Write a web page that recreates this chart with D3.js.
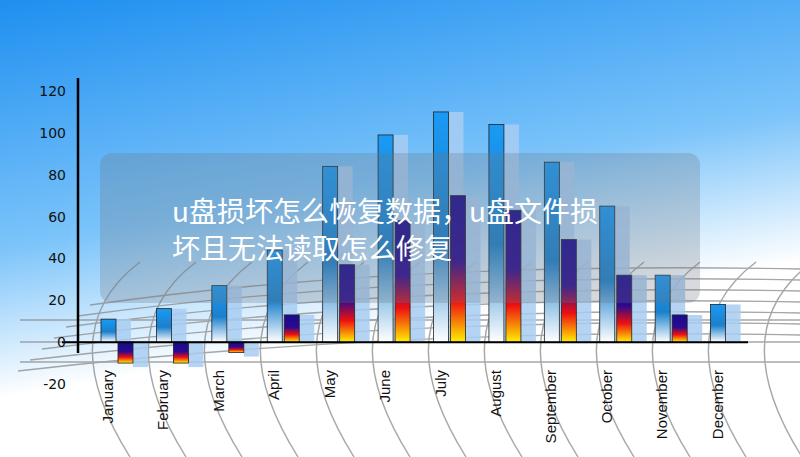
<!DOCTYPE html><html><head><meta charset="utf-8"><script src="https://cdn.jsdelivr.net/npm/d3@7/dist/d3.min.js"></script>
<style>body{margin:0}svg{display:block}</style></head><body><svg width="800" height="457"></svg>
<script>
const months=["January","February","March","April","May","June","July","August","September","October","November","December"];
const seriesA=[11,16,27,44,84,99,110,104,86,65,32,18];
const seriesB=[-10,-10,-5,13,37,58,70,63,49,32,13,null];
const yTicks=[-20,0,20,40,60,80,100,120];
const title1="u盘损坏怎么恢复数据，u盘文件损",title2="坏且无法读取怎么修复";
const svg=d3.select("svg"),W=800,H=457;
const defs=svg.append("defs");
const sky=defs.append("linearGradient").attr("id","sky").attr("x1",0).attr("y1",0).attr("x2",0.3).attr("y2",1);
sky.append("stop").attr("offset",0).attr("stop-color","#1e8ff0");
sky.append("stop").attr("offset",0.5).attr("stop-color","#7cc4fa");
sky.append("stop").attr("offset",0.8).attr("stop-color","#ffffff");
svg.append("rect").attr("width",W).attr("height",H).attr("fill","url(#sky)");
const gA=defs.append("linearGradient").attr("id","gA").attr("x1",0).attr("y1",0).attr("x2",0).attr("y2",1);
gA.append("stop").attr("offset",0).attr("stop-color","#1a9af5");
gA.append("stop").attr("offset",0.55).attr("stop-color","#1b80cc");
gA.append("stop").attr("offset",1).attr("stop-color","#ffffff");
const gB=defs.append("linearGradient").attr("id","gB").attr("x1",0).attr("y1",0).attr("x2",0).attr("y2",1);
gB.append("stop").attr("offset",0).attr("stop-color","#180c90");
gB.append("stop").attr("offset",0.45).attr("stop-color","#2a0a90");
gB.append("stop").attr("offset",0.72).attr("stop-color","#ee1010");
gB.append("stop").attr("offset",1).attr("stop-color","#fff000");
const y=d3.scaleLinear().domain([-20,120]).range([384,91]);
const x=d3.scaleBand().domain(months).range([101,766]);
// perspective grid
const grid=svg.append("g").attr("stroke","#8a8a8a").attr("stroke-width",1.4).attr("fill","none").attr("opacity",0.75);
for(let i=0;i<7;i++){const yy=275+i*11;grid.append("path").attr("d",`M${90-i*12},${yy+30} Q400,${yy-14} 800,${yy-6}`);}
for(let i=0;i<14;i++){const cx=90+i*56;grid.append("path").attr("d",`M${cx+50},${262} Q${cx-40},${330} ${cx+40},${457}`);}
[320,342,362].forEach(v=>grid.append("line").attr("x1",20).attr("x2",800).attr("y1",v).attr("y2",v));
const bw=15;
svg.append("g").selectAll("rect").data(months).join("rect")
 .attr("x",m=>x(m)+bw).attr("width",bw).attr("fill","#a8cdf2").attr("opacity",0.85)
 .attr("y",(m,i)=>y(Math.max(seriesA[i],0))).attr("height",(m,i)=>Math.abs(y(seriesA[i])-y(0)));
svg.append("g").selectAll("rect").data(months.filter((m,i)=>seriesB[i]!=null)).join("rect")
 .attr("x",m=>x(m)+2*bw+2).attr("width",bw).attr("fill","#a8cdf2").attr("opacity",0.85)
 .attr("y",m=>{const v=seriesB[months.indexOf(m)];return y(Math.max(v,0));})
 .attr("height",m=>{const v=seriesB[months.indexOf(m)];return Math.abs(y(v)-y(0))+(v<0?4:0);});
svg.append("g").selectAll("rect").data(months).join("rect")
 .attr("x",m=>x(m)).attr("width",bw).attr("fill","url(#gA)").attr("stroke","#222").attr("stroke-width",0.8)
 .attr("y",(m,i)=>y(seriesA[i])).attr("height",(m,i)=>y(0)-y(seriesA[i]));
svg.append("g").selectAll("rect").data(months.filter((m,i)=>seriesB[i]!=null)).join("rect")
 .attr("x",m=>x(m)+bw+2).attr("width",bw).attr("fill","url(#gB)").attr("stroke","#222").attr("stroke-width",0.8)
 .attr("y",m=>y(Math.max(seriesB[months.indexOf(m)],0)))
 .attr("height",m=>Math.abs(y(seriesB[months.indexOf(m)])-y(0)));
svg.append("line").attr("x1",78).attr("x2",78).attr("y1",78).attr("y2",353).attr("stroke","#000").attr("stroke-width",2.5);
svg.append("line").attr("x1",62).attr("x2",748).attr("y1",y(0)).attr("y2",y(0)).attr("stroke","#000").attr("stroke-width",2);
svg.append("g").selectAll("text").data(yTicks).join("text").attr("x",66).attr("y",d=>y(d)+5)
 .attr("text-anchor","end").attr("font-family","DejaVu Sans").attr("font-size",14).attr("fill","#111").text(d=>d);
svg.append("g").selectAll("text").data(months).join("text")
 .attr("transform",m=>`translate(${x(m)+12},370) rotate(-90)`).attr("text-anchor","end")
 .attr("font-family","Liberation Sans Narrow, Liberation Sans").attr("font-size",15).attr("fill","#111").text(m=>m);
svg.append("rect").attr("x",100).attr("y",153).attr("width",600).attr("height",150).attr("rx",12)
 .attr("fill","rgba(110,120,130,0.28)");
svg.append("g").attr("font-family","Noto Sans CJK SC").attr("font-size",28).attr("fill","#fff")
 .selectAll("text").data([title1,title2]).join("text").attr("x",172).attr("y",(d,i)=>222+i*37).text(d=>d);
</script></body></html>
